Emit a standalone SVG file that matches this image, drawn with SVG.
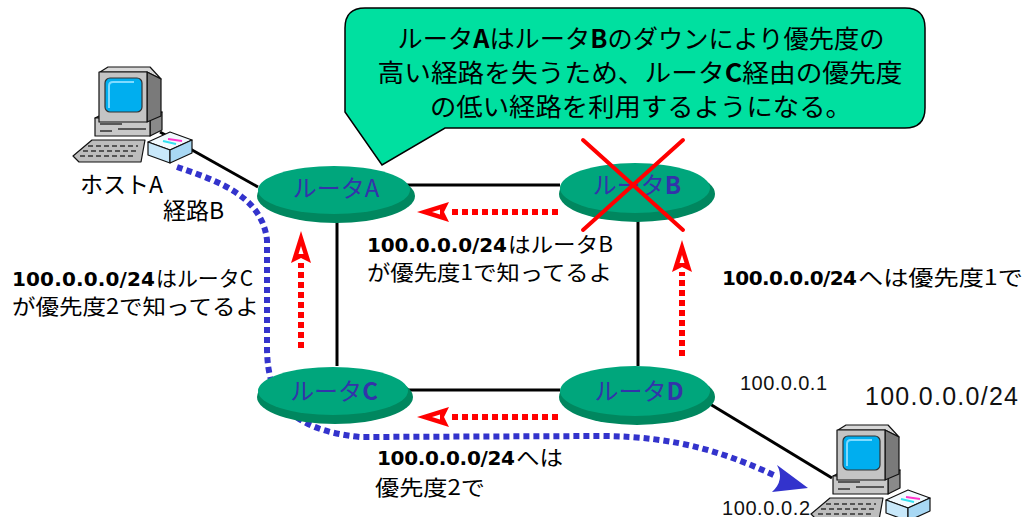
<svg xmlns="http://www.w3.org/2000/svg" xmlns:xlink="http://www.w3.org/1999/xlink" width="1025" height="517" viewBox="0 0 1025 517">
  <style>
    .jp { font-family: "Noto Sans CJK JP", "Liberation Sans", sans-serif; fill: #000; }
    .num { font-family: "DejaVu Sans", "Liberation Sans", sans-serif; font-weight: bold; font-size: 20px; fill: #000; }
    .ip { font-family: "Liberation Sans", "DejaVu Sans", sans-serif; fill: #111; }
    .rlabel { font-family: "Noto Sans CJK JP", sans-serif; font-size: 24px; fill: #3333AA; text-anchor: middle; }
    .disk-low { fill: #00875F; }
    .disk-top { fill: #00A67C; }
    .link { stroke: #000; stroke-width: 3; fill: none; }
    .adv { stroke: #FF0000; stroke-width: 6; stroke-dasharray: 6 4; fill: none; marker-end: url(#redHead); }
    .route { stroke: #3333CC; stroke-width: 6; stroke-dasharray: 6 4; fill: none; }
    .cross { stroke: #FF0000; stroke-width: 4; stroke-linecap: round; }
  </style>
  <defs>
    <marker id="redHead" markerUnits="userSpaceOnUse" markerWidth="34" markerHeight="24" viewBox="0 -12 34 24" refX="0" refY="0" orient="auto" overflow="visible">
      <path d="M0,-10 L32,0 L0,10 L5,0 Z" fill="#FF0000"/>
      <path d="M9,-2.5 L17,0 L9,2.5 Z" fill="#FFFFFF"/>
    </marker>
    <!-- desktop PC with modem, drawn at the upper-left host position -->
    <g id="pc-art" stroke="#111" stroke-width="1.2" stroke-linejoin="round">
      <!-- keyboard -->
      <polygon points="73,156 92,140 145,140 141,162 79,162" fill="#BDBDBD"/>
      <g stroke="#333" stroke-width="1.5" stroke-dasharray="5 3">
        <line x1="88" y1="146" x2="138" y2="146"/>
        <line x1="83" y1="151" x2="137" y2="151"/>
        <line x1="80" y1="156" x2="136" y2="156"/>
      </g>
      <!-- system unit -->
      <polygon points="95,118 107,112 162,112 150,118" fill="#E0E0E0"/>
      <polygon points="150,118 162,112 162,130 150,136" fill="#8A8A8A"/>
      <rect x="95" y="118" width="55" height="18" fill="#C8C8C8"/>
      <g stroke="#333" stroke-width="1.5">
        <line x1="100" y1="124" x2="122" y2="124"/>
        <line x1="118" y1="129" x2="146" y2="129"/>
        <line x1="100" y1="131" x2="112" y2="131"/>
      </g>
      <!-- monitor -->
      <polygon points="108,67 150,67 161,79 147,72 100,72" fill="#D8D8D8"/>
      <polygon points="147,72 161,79 161,116 147,122" fill="#7A7A7A"/>
      <rect x="99" y="72" width="48" height="50" fill="#C4C4C4"/>
      <rect x="105" y="78" width="37" height="34" rx="5" fill="#00AEEF" stroke="#333"/>
      <path d="M109,108 L109,86 Q109,82 113,82 L134,82" fill="none" stroke="#7FDBFF" stroke-width="2"/>
      <!-- modem -->
      <polygon points="148,142 170,132 192,140 170,150" fill="#F2FAFF"/>
      <polygon points="148,142 170,150 170,163 148,155" fill="#C8E8FA"/>
      <polygon points="170,150 192,140 192,153 170,163" fill="#A8D8F4"/>
      <line x1="168" y1="139" x2="182" y2="141" stroke="#FF33CC" stroke-width="2"/>
      <line x1="163" y1="141" x2="176" y2="144" stroke="#33E0F0" stroke-width="2"/>
    </g>
  </defs>

  <rect x="0" y="0" width="1025" height="517" fill="#FFFFFF"/>

  <!-- physical links and update/route flows -->
  <g id="connectors">
    <line class="link" x1="160" y1="132" x2="258" y2="187"/>
    <line class="link" x1="405" y1="185" x2="560" y2="185"/>
    <line class="link" x1="337" y1="218" x2="337" y2="366"/>
    <line class="link" x1="638" y1="214" x2="638" y2="366"/>
    <line class="link" x1="407" y1="390" x2="560" y2="390"/>
    <line class="link" x1="700" y1="398" x2="832" y2="478"/>

    <path class="adv" d="M558,212 H449"/>
    <path class="adv" d="M558,417 H449"/>
    <path class="adv" d="M301,348 V263"/>
    <path class="adv" d="M682,356 V272"/>

    <path class="route" d="M177,167 C215,180 262,195 267,240 L267,350 C268,400 290,430 360,437 L600,436 C680,436 730,455 776,476"/>
    <path d="M777,465 L808,488 L772,492 Q785,480 777,465 Z" fill="#3333CC"/>
  </g>

  <!-- explanation balloon -->
  <g id="callout">
    <path d="M365,8 H905 Q925,8 925,28 V108 Q925,128 905,128 H445 L382,165 L345,112 V28 Q345,8 365,8 Z" fill="#00E0A0" stroke="#000" stroke-width="1.5"/>
    <text class="jp" font-size="25" text-anchor="middle" x="641" y="48" textLength="487" lengthAdjust="spacingAndGlyphs">ルータ<tspan font-weight="bold">A</tspan>はルータ<tspan font-weight="bold">B</tspan>のダウンにより優先度の</text>
    <text class="jp" font-size="25" text-anchor="middle" x="640" y="82" textLength="525" lengthAdjust="spacingAndGlyphs">高い経路を失うため、ルータ<tspan font-weight="bold">C</tspan>経由の優先度</text>
    <text class="jp" font-size="25" text-anchor="middle" x="641" y="116" textLength="422" lengthAdjust="spacingAndGlyphs">の低い経路を利用するようになる。</text>
  </g>

  <g id="router-a">
    <ellipse class="disk-low" cx="336" cy="196" rx="79" ry="27"/>
    <ellipse class="disk-top" cx="334" cy="190" rx="76" ry="24"/>
    <text class="rlabel" x="336" y="197">ルータA</text>
  </g>

  <g id="router-b">
    <ellipse class="disk-low" cx="637" cy="194" rx="78" ry="28"/>
    <ellipse class="disk-top" cx="635" cy="188" rx="75" ry="25"/>
    <text class="rlabel" x="637" y="194">ルータ<tspan font-weight="bold">B</tspan></text>
    <line class="cross" x1="583" y1="140" x2="683" y2="230"/>
    <line class="cross" x1="683" y1="140" x2="583" y2="230"/>
  </g>

  <g id="router-c">
    <ellipse class="disk-low" cx="335" cy="397" rx="78" ry="27"/>
    <ellipse class="disk-top" cx="333" cy="391" rx="75" ry="24"/>
    <text class="rlabel" x="334" y="400">ルータ<tspan font-weight="bold">C</tspan></text>
  </g>

  <g id="router-d">
    <ellipse class="disk-low" cx="637" cy="397" rx="78" ry="28"/>
    <ellipse class="disk-top" cx="635" cy="391" rx="75" ry="25"/>
    <text class="rlabel" x="639" y="400">ルータ<tspan font-weight="bold">D</tspan></text>
  </g>

  <g id="host-a">
    <use xlink:href="#pc-art"/>
    <text class="jp" font-size="23" x="80" y="193">ホストA</text>
    <text class="jp" font-size="23" x="163" y="219">経路B</text>
  </g>

  <g id="host-server">
    <text class="ip" font-size="20" x="722" y="515" textLength="88">100.0.0.2</text>
    <use xlink:href="#pc-art" transform="translate(738,358)"/>
    <text class="ip" font-size="20" x="740" y="390" textLength="87">100.0.0.1</text>
    <text class="ip" font-size="25" x="865" y="405" textLength="153" fill="#000">100.0.0.0/24</text>
  </g>

  <!-- routing advertisements -->
  <g id="notes">
    <text class="num" x="367" y="252" textLength="140">100.0.0.0/24</text>
    <text class="jp" font-size="21" x="508" y="252" textLength="105" lengthAdjust="spacingAndGlyphs">はルータB</text>
    <text class="jp" font-size="21" x="367" y="280" textLength="245" lengthAdjust="spacingAndGlyphs">が優先度1で知ってるよ</text>

    <text class="num" x="12" y="286" textLength="143">100.0.0.0/24</text>
    <text class="jp" font-size="21" x="156" y="286" textLength="97" lengthAdjust="spacingAndGlyphs">はルータC</text>
    <text class="jp" font-size="21" x="12" y="314" textLength="247" lengthAdjust="spacingAndGlyphs">が優先度2で知ってるよ</text>

    <text class="num" x="722" y="285" textLength="135">100.0.0.0/24</text>
    <text class="jp" font-size="21" x="858" y="285" textLength="165" lengthAdjust="spacingAndGlyphs">へは優先度1で</text>

    <text class="num" x="377" y="465" textLength="138">100.0.0.0/24</text>
    <text class="jp" font-size="21" x="516" y="465" textLength="47" lengthAdjust="spacingAndGlyphs">へは</text>
    <text class="jp" font-size="21" x="375" y="495" textLength="110" lengthAdjust="spacingAndGlyphs">優先度2で</text>
  </g>
</svg>
